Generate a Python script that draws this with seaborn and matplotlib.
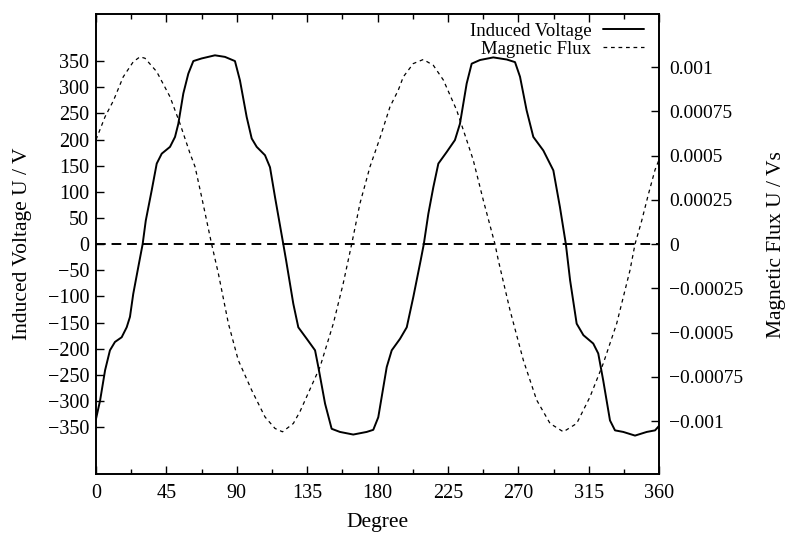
import matplotlib
matplotlib.use("Agg")
import matplotlib.pyplot as plt
import seaborn as sns
from matplotlib.ticker import MultipleLocator

# induced voltage (V)
volt_deg = [0, 2.6, 5.8, 8.9, 12.1, 16.4, 19.6, 21.7, 23.8, 27, 29.8, 31.8, 35.6, 38.8,
            42, 47.3, 50.5, 52.6, 55.8, 59, 62.2, 67.5, 76, 82.4, 88.8, 92, 96.3, 99.5,
            102.7, 108, 111.2, 114.4, 119.7, 121.5, 126.1, 129.3, 134.7, 140, 142.1,
            146.4, 150.6, 155.9, 164.4, 173, 177.2, 180.4, 185.8, 189, 194.3, 198.6,
            202.8, 207.5, 209.5, 212.4, 215.6, 218.8, 224.1, 229.4, 232.6, 236.9, 240.1,
            245.4, 253.9, 262.5, 267.8, 271, 275.2, 279.5, 285.9, 292.3, 296.5, 300.3,
            303, 307.2, 311.5, 317.8, 321, 324.2, 328.5, 331.7, 337, 344.5, 352, 357.3, 360]
volt_vals = [-334, -299, -241, -203, -187, -178, -159, -139, -95, -44, 0, 45, 103, 154,
             173, 186, 205, 230, 288, 326, 350, 355, 361, 358, 350, 313, 243, 202,
             186, 170, 147, 90, 0, -31, -114, -159, -181, -203, -235,
             -305, -353, -359, -364, -359, -355, -331, -235, -203, -181, -159,
             -101, -31, 0, 58, 109, 154, 176, 199, 230, 307, 345,
             352, 357, 353, 348, 320, 256, 205, 179, 141, 71, 0,
             -69, -152, -174, -190, -209, -261, -337, -356, -359, -366, -359, -356, -347]

# magnetic flux (Vs)
flux_deg = [0, 5.8, 11.1, 17.4, 23.8, 28.1, 31.3, 38.8, 47.3, 53.7, 60.1, 63.3, 67.5,
            73.9, 78.2, 84.6, 90.9, 99.5, 108, 114.4, 119.2, 126.1, 130.4, 143.2, 151.7,
            158, 163.4, 168.7, 175.1, 181.5, 187.9, 193.2, 196.4, 202.8, 209.2, 215.6,
            222, 230.5, 236.9, 241.1, 247.5, 255, 257.1, 264.6, 273.1, 281.6, 290.2,
            298.7, 307.2, 315.7, 324.2, 332.8, 341.3, 344.5, 348.7, 353, 357.3, 360]
flux_vals = [0.00059, 0.00072, 0.00081, 0.000945, 0.00103, 0.001058, 0.00105, 0.000974,
             0.000832, 0.00068, 0.000512, 0.000437, 0.000267, 0.0, -0.000166, -0.000448,
             -0.000655, -0.000825, -0.000976, -0.001041, -0.00106, -0.001013, -0.000945,
             -0.000693, -0.000448, -0.000222, 0.0, 0.00023, 0.000437, 0.0006, 0.000776,
             0.00087, 0.000945, 0.00102, 0.001043, 0.00101, 0.000927, 0.000757, 0.000588,
             0.000475, 0.000249, 0.0, -0.00009, -0.000373, -0.000655, -0.00088, -0.001013,
             -0.00106, -0.001013, -0.000863, -0.000674, -0.000448, -0.000147, 0.0,
             0.00013, 0.00028, 0.00042, 0.00048]

x_ticks = [0, 45, 90, 135, 180, 225, 270, 315, 360]
volt_ticks = [-350, -300, -250, -200, -150, -100, -50, 0, 50, 100, 150, 200, 250, 300, 350]
flux_ticks = [-0.001, -0.00075, -0.0005, -0.00025, 0, 0.00025, 0.0005, 0.00075, 0.001]
flux_tick_labels = ["\u22120.001", "\u22120.00075", "\u22120.0005", "\u22120.00025", "0",
                    "0.00025", "0.0005", "0.00075", "0.001"]

sns.set_theme(style="ticks")
plt.rcParams["font.family"] = ["Liberation Serif", "DejaVu Serif"]
for k in ["text.color", "axes.labelcolor", "xtick.color", "ytick.color", "axes.edgecolor"]:
    plt.rcParams[k] = "black"

fig, ax = plt.subplots(figsize=(7.87, 5.34), dpi=100)
fig.subplots_adjust(left=0.122, right=0.8377, top=0.9738, bottom=0.1118)

sns.lineplot(x=volt_deg, y=volt_vals, ax=ax, color="black", linewidth=1.4, legend=False)
ax.axhline(0, color="black", linewidth=1.4, dashes=(5, 3))

ax2 = ax.twinx()
sns.lineplot(x=flux_deg, y=flux_vals, ax=ax2, color="black", linewidth=0.9, legend=False)
flux_line = ax2.get_lines()[0]
flux_line.set_dashes((3, 3))
volt_line = ax.get_lines()[0]

ax.set_xlim(0, 360)
ax.set_ylim(-440, 440)
ax2.set_ylim(-0.0013, 0.0013)

ax.set_xticks(x_ticks)
ax.xaxis.set_minor_locator(MultipleLocator(22.5))
ax.set_yticks(volt_ticks)
ax2.set_yticks(flux_ticks)
ax2.set_yticklabels(flux_tick_labels)

ax.tick_params(axis="x", which="both", direction="in", top=True, bottom=True, labelsize=14.5, pad=7)
ax.tick_params(axis="x", which="major", length=6, width=1)
ax.tick_params(axis="x", which="minor", length=3.5, width=1)
ax.tick_params(axis="y", which="both", direction="in", left=True, right=False, labelsize=14.5,
               length=6, width=1, pad=5)
ax2.tick_params(axis="y", direction="in", right=True, labelsize=14, length=6, width=1, pad=7)

for a in (ax, ax2):
    for s in a.spines.values():
        s.set_linewidth(1.2)
        s.set_color("black")

ax.set_xlabel("Degree", fontsize=15.5, labelpad=7)
ax.set_ylabel("Induced Voltage U / V", fontsize=15.5, labelpad=11)
ax2.set_ylabel("Magnetic Flux U / Vs", fontsize=15.5, labelpad=17)

ax2.legend([volt_line, flux_line], ["Induced Voltage", "Magnetic Flux"], loc="upper right",
           bbox_to_anchor=(0.818, 0.958), bbox_transform=fig.transFigure, markerfirst=False,
           frameon=False, fontsize=13.5, handlelength=2.2, handletextpad=0.6,
           labelspacing=0.05, borderpad=0, borderaxespad=0)

fig.savefig("out.png", dpi=100)
